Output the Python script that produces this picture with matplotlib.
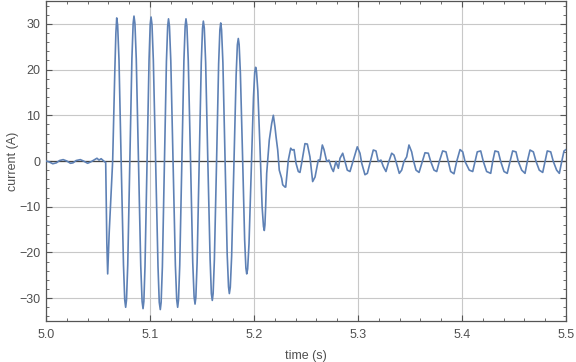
"""Fault current transient: current vs time, Mathematica-style frame."""

import matplotlib.pyplot as plt
from matplotlib.ticker import MultipleLocator

# pre-fault noise around zero
t_pre = [5.000, 5.003, 5.0065, 5.010, 5.013, 5.0165, 5.020, 5.0235, 5.026,
         5.029, 5.033, 5.036, 5.040, 5.043, 5.046, 5.049, 5.051, 5.053, 5.0565]
i_pre = [0.0, -0.2, -0.6, -0.4, 0.1, 0.3, 0.0, -0.5, -0.4,
         0.1, 0.3, 0.0, -0.5, -0.2, 0.2, 0.6, 0.2, 0.5, -0.2]

# fault: large 60 Hz swing, decaying after ~5.18 s
t_fault = [
    5.0574, 5.0585, 5.0593, 5.0608, 5.0641, 5.0662, 5.0672, 5.0680,
    5.0689, 5.0702, 5.0723, 5.0745, 5.0757, 5.0766,
    5.0774, 5.0786, 5.0806, 5.0826, 5.0838, 5.0846,
    5.0855, 5.0868, 5.0890, 5.0911, 5.0924, 5.0933,
    5.0941, 5.0952, 5.0972, 5.0991, 5.1002, 5.1010,
    5.1019, 5.1032, 5.1055, 5.1077, 5.1089, 5.1099,
    5.1107, 5.1119, 5.1139, 5.1158, 5.1170, 5.1178,
    5.1187, 5.1200, 5.1222, 5.1244, 5.1257, 5.1266,
    5.1274, 5.1286, 5.1306, 5.1326, 5.1338, 5.1346,
    5.1355, 5.1368, 5.1390, 5.1411, 5.1424, 5.1433,
    5.1441, 5.1453, 5.1473, 5.1493, 5.1505, 5.1513,
    5.1522, 5.1535, 5.1556, 5.1578, 5.1590, 5.1599,
    5.1607, 5.1619, 5.1640, 5.1660, 5.1672, 5.1680,
    5.1688, 5.1701, 5.1722, 5.1742, 5.1755, 5.1763,
    5.1772, 5.1785, 5.1806, 5.1828, 5.1840, 5.1849,
    5.1857, 5.1869, 5.1890, 5.1910, 5.1922, 5.1930,
    5.1939, 5.1952, 5.1973, 5.1995, 5.2007, 5.2016,
    5.2024, 5.2037, 5.2058, 5.2078, 5.2091, 5.2099,
    5.2105, 5.2112, 5.2122, 5.2147, 5.2170, 5.2186,
    5.2202, 5.2212, 5.2228, 5.2243, 5.2266, 5.2276, 5.2298,
]
i_fault = [
    -0.3, -18.0, -24.7, -15.5, 0.0, 20.0, 28.0, 31.3,
    29.7, 22.0, -0.4, -22.7, -30.4, -32.0,
    -30.4, -22.7, -0.2, 22.4, 30.1, 31.7,
    30.1, 22.3, -0.3, -22.9, -30.7, -32.3,
    -30.7, -23.0, -0.4, 22.2, 29.9, 31.5,
    29.9, 22.1, -0.5, -23.1, -30.9, -32.5,
    -30.9, -23.2, -0.7, 21.8, 29.5, 31.1,
    29.5, 21.9, -0.5, -22.8, -30.4, -32.0,
    -30.4, -22.8, -0.5, 21.9, 29.5, 31.1,
    29.5, 21.9, -0.1, -22.2, -29.7, -31.3,
    -29.8, -22.2, -0.4, 21.5, 29.0, 30.6,
    29.1, 21.6, 0.0, -21.5, -29.0, -30.5,
    -29.0, -21.6, -0.2, 21.3, 28.7, 30.2,
    28.7, 21.5, 0.6, -20.3, -27.5, -29.0,
    -27.6, -20.8, -1.1, 18.6, 25.4, 26.8,
    25.5, 19.3, 1.1, -17.2, -23.4, -24.7,
    -23.6, -18.1, -2.1, 13.9, 19.4, 20.5,
    19.6, 15.3, 2.7, -10.0, -14.3, -15.2,
    -14.0, -10.0, -2.7, 4.6, 8.2, 10.0,
    7.4, 5.3, 2.4, -2.0, -3.8, -5.2, -5.7,
]

# post-fault ripple
t_post = [
    5.2305, 5.2330, 5.2353, 5.2368, 5.2385, 5.2404, 5.2426, 5.2442, 5.2458,
    5.2490, 5.2513, 5.2538, 5.2564, 5.2587, 5.2618, 5.2635, 5.2657, 5.2673,
    5.2699, 5.2721, 5.2747, 5.2763, 5.2788, 5.2811, 5.2827, 5.2853, 5.2875,
    5.2897, 5.2923, 5.2955, 5.2993, 5.3019, 5.3036, 5.3067, 5.3090, 5.3122,
    5.3147, 5.3173, 5.3195, 5.3221, 5.3243, 5.3269, 5.3291, 5.3324, 5.3346,
    5.3365, 5.3397, 5.3420, 5.3442, 5.3468, 5.3490, 5.3516, 5.3532, 5.3558,
    5.3587, 5.3613, 5.3644, 5.3676, 5.3699, 5.3731, 5.3757, 5.3782, 5.3814,
    5.3846, 5.3868, 5.3891, 5.3923, 5.3949, 5.3981, 5.4007, 5.4029, 5.4070,
    5.4103, 5.4125, 5.4147, 5.4180, 5.4205, 5.4237, 5.4276, 5.4295, 5.4317,
    5.4349, 5.4372, 5.4404, 5.4435, 5.4462, 5.4487, 5.4519, 5.4541, 5.4574,
    5.4606, 5.4628, 5.4654, 5.4686, 5.4712, 5.4743, 5.4776, 5.4798, 5.4820,
    5.4853, 5.4878, 5.4910, 5.4936, 5.4959, 5.4981, 5.5000,
]
i_post = [
    -5.7, 0.2, 2.8, 2.4, 2.5, -0.5, -2.3, -2.5, -0.5,
    3.8, 3.7, 0.9, -4.5, -3.5, 0.2, 0.2, 3.5, 2.5,
    -0.1, 0.2, -1.6, -2.3, -0.1, -1.6, 0.6, 1.7, -0.1,
    -2.0, -2.3, 0.2, 3.1, 1.7, -0.5, -3.0, -2.7, 0.2,
    2.4, 2.2, -0.1, 0.2, -1.2, -2.3, -0.5, 1.7, 1.3,
    -0.1, -2.7, -2.0, -0.1, 0.9, 3.5, 2.0, 0.2, -2.0,
    -2.5, -0.5, 1.8, 1.7, -0.1, -2.0, -2.3, -0.1, 2.2,
    2.0, -0.1, -2.3, -2.8, -0.1, 2.5, 2.0, -0.1, -2.0,
    -2.3, -0.1, 2.0, 2.2, -0.1, -2.3, -2.7, -0.1, 2.2,
    2.0, -0.1, -2.3, -2.7, -0.1, 2.2, 2.0, -0.1, -2.0,
    -2.7, -0.1, 2.4, 2.0, -0.1, -2.0, -2.5, -0.1, 2.2,
    2.0, -0.1, -2.0, -2.7, -0.1, 2.2, 2.5,
]

time = t_pre + t_fault + t_post
current = i_pre + i_fault + i_post

LINE = "#5E81B5"
FRAME = "#555555"
LABEL = "#505050"

plt.rcParams["font.family"] = ["Liberation Sans", "DejaVu Sans"]

fig = plt.figure(figsize=(5.76, 3.62), dpi=100)
ax = fig.add_axes([46 / 576, 1 - 321 / 362, 520 / 576, 320 / 362])

ax.plot(time, current, color=LINE, lw=1.2, zorder=3)

ax.set_xlim(5.0, 5.5)
ax.set_ylim(-35, 35)
ax.xaxis.set_major_locator(MultipleLocator(0.1))
ax.xaxis.set_minor_locator(MultipleLocator(0.02))
ax.yaxis.set_major_locator(MultipleLocator(10))
ax.yaxis.set_minor_locator(MultipleLocator(2))
ax.xaxis.set_major_formatter(lambda v, p: f"{v:.1f}")
ax.yaxis.set_major_formatter(lambda v, p: f"{v:.0f}".replace("-", "\u2212"))

ax.grid(True, which="major", color="#c8c8c8", lw=0.8, zorder=0)
ax.axhline(0, color="#444444", lw=0.9, zorder=2)

for s in ax.spines.values():
    s.set_color(FRAME)
    s.set_linewidth(0.9)

ax.tick_params(which="both", direction="in", top=True, right=True,
               color=FRAME, labelcolor=LABEL, labelsize=9)
ax.tick_params(which="major", length=4, width=0.8)
ax.tick_params(which="minor", length=2.5, width=0.6)
ax.tick_params(axis="x", which="major", pad=6)
ax.tick_params(axis="y", which="major", pad=4)

ax.set_xlabel("time (s)", fontsize=9, color=LABEL, labelpad=6)
ax.set_ylabel("current (A)", fontsize=9, color=LABEL, labelpad=0)

fig.savefig("out.png", dpi=100)
